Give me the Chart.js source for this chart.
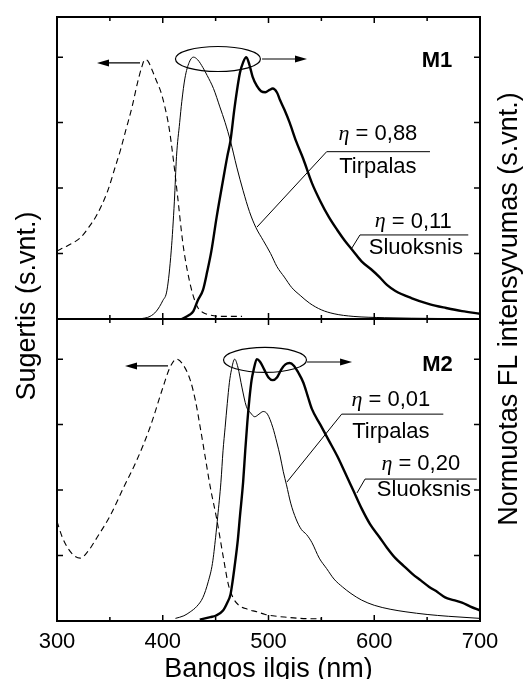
<!DOCTYPE html>
<html>
<head>
<meta charset="utf-8">
<script src="https://cdn.jsdelivr.net/npm/chart.js@4.4.0/dist/chart.umd.min.js"></script>
<style>
  body { margin: 0; background: #fff; }
</style>
</head>
<body>
<canvas id="spektrai" width="524" height="679"></canvas>
<script>
// --- duomenys (nm, santykiniai vienetai) ---
const m1AbsNm = [300, 310, 322, 330, 338, 348, 355, 360, 365, 371, 376, 380, 383, 386, 390, 394, 398, 402, 406, 410, 414, 419, 423, 428, 433, 438, 445, 455, 475];
const m1AbsVal = [0.26, 0.28, 0.31, 0.35, 0.40, 0.49, 0.58, 0.645, 0.72, 0.81, 0.90, 0.96, 0.99, 0.985, 0.95, 0.91, 0.87, 0.81, 0.73, 0.61, 0.47, 0.29, 0.19, 0.10, 0.045, 0.025, 0.015, 0.01, 0.01];

const m1SolNm = [378, 388, 394, 400, 404, 408, 411, 413, 416, 418, 421, 425, 429, 433, 438, 442, 448, 454, 459, 464, 470, 476, 482, 488, 495, 502, 508, 515, 522, 530, 539, 550, 562, 580, 610, 660, 700];
const m1SolVal = [0, 0.01, 0.03, 0.07, 0.11, 0.26, 0.45, 0.62, 0.75, 0.83, 0.92, 0.98, 1.0, 0.99, 0.96, 0.93, 0.88, 0.81, 0.75, 0.68, 0.58, 0.49, 0.41, 0.35, 0.30, 0.25, 0.20, 0.16, 0.12, 0.09, 0.06, 0.035, 0.02, 0.01, 0.005, 0.002, 0.001];

const m1FilmNm = [418, 425, 429, 433, 438, 442, 446, 451, 457, 461, 464, 468, 473, 476, 479, 482, 485, 489, 493, 497, 501, 504, 508, 511, 515, 520, 526, 533, 541, 549, 557, 565, 572, 580, 588, 597, 605, 612, 620, 635, 652, 668, 683, 700];
const m1FilmVal = [0, 0.015, 0.03, 0.07, 0.11, 0.18, 0.26, 0.39, 0.53, 0.62, 0.68, 0.81, 0.94, 0.98, 1.0, 0.97, 0.925, 0.89, 0.87, 0.866, 0.875, 0.88, 0.865, 0.835, 0.80, 0.75, 0.68, 0.61, 0.52, 0.45, 0.39, 0.34, 0.30, 0.26, 0.22, 0.19, 0.16, 0.13, 0.107, 0.08, 0.057, 0.042, 0.03, 0.02];

const m2AbsNm = [300, 305, 310, 316, 322, 330, 338, 350, 363, 375, 388, 400, 407, 413, 419, 426, 431, 435, 440, 445, 451, 457, 462, 467, 472, 480, 489, 497, 504, 515, 530, 550];
const m2AbsVal = [0.38, 0.32, 0.28, 0.25, 0.24, 0.27, 0.32, 0.40, 0.51, 0.61, 0.74, 0.89, 0.97, 1.0, 0.98, 0.92, 0.84, 0.75, 0.63, 0.51, 0.39, 0.25, 0.14, 0.085, 0.06, 0.045, 0.035, 0.025, 0.02, 0.015, 0.01, 0.008];

const m2SolNm = [412, 420, 426, 432, 438, 443, 447, 450, 452, 455, 457, 459, 461, 463, 465, 468, 471, 475, 479, 483, 487, 491, 495, 499, 504, 508, 511, 514, 517, 521, 526, 531, 536, 541, 548, 555, 562, 570, 578, 588, 600, 615, 630, 650, 670, 700];
const m2SolVal = [0.01, 0.02, 0.035, 0.055, 0.09, 0.15, 0.22, 0.32, 0.40, 0.53, 0.65, 0.74, 0.83, 0.91, 0.96, 1.0, 0.97, 0.89, 0.82, 0.795, 0.78, 0.79, 0.80, 0.79, 0.74, 0.68, 0.63, 0.57, 0.52, 0.45, 0.39, 0.35, 0.33, 0.30, 0.24, 0.20, 0.16, 0.13, 0.105, 0.08, 0.06, 0.045, 0.035, 0.025, 0.018, 0.01];

const m2FilmNm = [435, 445, 450, 457, 461, 464, 466, 468, 471, 473, 476, 478, 480, 482, 484, 486, 489, 492, 496, 500, 504, 508, 512, 516, 520, 524, 528, 533, 537, 541, 549, 557, 565, 572, 580, 588, 596, 605, 612, 620, 628, 636, 644, 652, 660, 667, 675, 683, 691, 700];
const m2FilmVal = [0.005, 0.015, 0.02, 0.04, 0.07, 0.10, 0.15, 0.21, 0.31, 0.40, 0.53, 0.65, 0.76, 0.85, 0.92, 0.96, 1.0, 0.99, 0.96, 0.93, 0.92, 0.93, 0.96, 0.98, 0.985, 0.975, 0.95, 0.91, 0.86, 0.81, 0.75, 0.69, 0.63, 0.57, 0.50, 0.43, 0.37, 0.32, 0.28, 0.24, 0.21, 0.18, 0.155, 0.13, 0.11, 0.09, 0.08, 0.07, 0.055, 0.04];

const xMin = 300, xMax = 700, xStep = 100, xMinorStep = 50;
const yMax = 1.1533, yStep = 0.25;

// --- anotacijos (duomenu koordinatemis) ---
const ovals = [
  { axis: 'yTop', nm: 452.2, v: 0.993, rx: 42.5, ry: 12.5 },
  { axis: 'yBot', nm: 496.7, v: 0.997, rx: 41.5, ry: 12.5 },
];
const arrows = [
  { axis: 'yTop', from: [493.9, 0.993], to: [536.4, 0.993] },
  { axis: 'yTop', from: [378.5, 0.978], to: [337.8, 0.978] },
  { axis: 'yBot', from: [536.4, 0.989], to: [579.0, 0.989] },
  { axis: 'yBot', from: [405.0, 0.974], to: [364.3, 0.974] },
];
const panelTags = [
  { axis: 'yTop', text: 'M1', at: [659.3, 0.985] },
  { axis: 'yBot', text: 'M2', at: [659.8, 0.978] },
];
const callouts = [
  { axis: 'yTop', eta: '0,88', medium: 'Tirpalas', etaAt: [603.5, 0.706], mediumAt: [603.4, 0.579],
    line: [[489.1, 0.351], [555.0, 0.639], [652.7, 0.639]] },
  { axis: 'yTop', eta: '0,11', medium: 'Sluoksnis', etaAt: [636.9, 0.372], mediumAt: [639.3, 0.270],
    line: [[578.7, 0.270], [586.5, 0.321], [688.9, 0.321]] },
  { axis: 'yBot', eta: '0,01', medium: 'Tirpalas', etaAt: [615.7, 0.844], mediumAt: [615.7, 0.723],
    line: [[517.5, 0.531], [569.2, 0.790], [665.3, 0.790]] },
  { axis: 'yBot', eta: '0,20', medium: 'Sluoksnis', etaAt: [644.0, 0.600], mediumAt: [647.0, 0.500],
    line: [[583.7, 0.489], [591.3, 0.542], [696.9, 0.542]] },
];

const SANS = "'Liberation Sans', Arial, sans-serif";
const SERIF = "'Liberation Serif', 'Times New Roman', serif";

function pts(nm, val) {
  return nm.map((x, i) => ({ x: x, y: val[i] }));
}

function kreive(nm, val, axis, kind) {
  return {
    data: pts(nm, val),
    yAxisID: axis,
    borderColor: '#000',
    borderWidth: kind === 'film' ? 2.4 : (kind === 'abs' ? 1.1 : 1),
    borderDash: kind === 'abs' ? [6, 4] : [],
    cubicInterpolationMode: 'monotone',
    pointRadius: 0,
    fill: false,
  };
}

// remeliai, vidines padalos ir anotacijos
const remai = {
  id: 'remai',
  afterDraw(chart) {
    const { ctx, chartArea: { left, right }, scales } = chart;
    const xs = scales.x;
    const P = (axis, p) => ({ x: xs.getPixelForValue(p[0]), y: scales[axis].getPixelForValue(p[1]) });
    ctx.save();
    ctx.strokeStyle = '#000';
    ctx.fillStyle = '#000';

    ['yTop', 'yBot'].forEach((id) => {
      const ys = scales[id];
      ctx.lineWidth = 1.5;
      ctx.beginPath();
      ys.ticks.forEach((t) => {
        if (t.value <= 0 || t.value > 1.01) return;
        const py = ys.getPixelForValue(t.value);
        ctx.moveTo(left, py); ctx.lineTo(left + 6, py);
        ctx.moveTo(right, py); ctx.lineTo(right - 6, py);
      });
      for (let v = xMin + xMinorStep; v < xMax; v += xMinorStep) {
        const px = xs.getPixelForValue(v);
        const len = v % xStep === 0 ? 6 : 4;
        ctx.moveTo(px, ys.top); ctx.lineTo(px, ys.top + len);
        ctx.moveTo(px, ys.bottom); ctx.lineTo(px, ys.bottom - len);
      }
      ctx.stroke();
      ctx.lineWidth = 2;
      ctx.strokeRect(left, ys.top, right - left, ys.bottom - ys.top);
    });

    ctx.lineWidth = 1.2;
    ovals.forEach((o) => {
      const c = P(o.axis, [o.nm, o.v]);
      ctx.beginPath();
      ctx.ellipse(c.x, c.y, o.rx, o.ry, 0, 0, Math.PI * 2);
      ctx.stroke();
    });

    arrows.forEach((a) => {
      const p1 = P(a.axis, a.from), p2 = P(a.axis, a.to);
      const dir = Math.sign(p2.x - p1.x);
      ctx.beginPath();
      ctx.moveTo(p1.x, p1.y); ctx.lineTo(p2.x - dir * 8, p2.y);
      ctx.stroke();
      ctx.beginPath();
      ctx.moveTo(p2.x, p2.y);
      ctx.lineTo(p2.x - dir * 12, p2.y - 3.5);
      ctx.lineTo(p2.x - dir * 12, p2.y + 3.5);
      ctx.closePath();
      ctx.fill();
    });

    ctx.textBaseline = 'middle';
    ctx.textAlign = 'center';
    ctx.font = 'bold 22px ' + SANS;
    panelTags.forEach((t) => {
      const c = P(t.axis, t.at);
      ctx.fillText(t.text, c.x, c.y);
    });

    callouts.forEach((c) => {
      ctx.lineWidth = 1;
      ctx.beginPath();
      c.line.forEach((p, i) => {
        const q = P(c.axis, p);
        if (i === 0) ctx.moveTo(q.x, q.y); else ctx.lineTo(q.x, q.y);
      });
      ctx.stroke();

      const e = P(c.axis, c.etaAt);
      const etaFont = 'italic 22px ' + SERIF;
      const restFont = '22px ' + SANS;
      const rest = ' = ' + c.eta;
      ctx.font = etaFont;
      const w1 = ctx.measureText('\u03B7').width;
      ctx.font = restFont;
      const w2 = ctx.measureText(rest).width;
      const x0 = e.x - (w1 + w2) / 2;
      ctx.textAlign = 'left';
      ctx.font = etaFont;
      ctx.fillText('\u03B7', x0, e.y);
      ctx.font = restFont;
      ctx.fillText(rest, x0 + w1, e.y);

      const m = P(c.axis, c.mediumAt);
      ctx.textAlign = 'center';
      ctx.fillText(c.medium, m.x, m.y);
    });

    // asiu pavadinimai
    ctx.font = '27px ' + SANS;
    ctx.textBaseline = 'alphabetic';
    ctx.save();
    ctx.translate(35, 306);
    ctx.rotate(-Math.PI / 2);
    ctx.fillText('Sugertis (s.vnt.)', 0, 0);
    ctx.restore();
    ctx.save();
    ctx.translate(517, 309);
    ctx.rotate(-Math.PI / 2);
    ctx.fillText('Normuotas FL intensyvumas (s.vnt.)', 0, 0);
    ctx.restore();

    ctx.restore();
  },
};

const yAxis = (weight) => ({
  type: 'linear',
  position: 'left',
  stack: 'panele',
  stackWeight: 1,
  weight: weight,
  min: 0,
  max: yMax,
  ticks: { stepSize: yStep, display: false },
  grid: { display: false },
  border: { display: false },
  afterFit: (s) => { s.width = 57; },
});

new Chart(document.getElementById('spektrai'), {
  type: 'line',
  data: {
    datasets: [
      kreive(m1AbsNm, m1AbsVal, 'yTop', 'abs'),
      kreive(m1SolNm, m1SolVal, 'yTop', 'sol'),
      kreive(m1FilmNm, m1FilmVal, 'yTop', 'film'),
      kreive(m2AbsNm, m2AbsVal, 'yBot', 'abs'),
      kreive(m2SolNm, m2SolVal, 'yBot', 'sol'),
      kreive(m2FilmNm, m2FilmVal, 'yBot', 'film'),
    ],
  },
  options: {
    responsive: false,
    animation: false,
    layout: { padding: { top: 17, right: 44, left: 0, bottom: 0 } },
    plugins: { legend: { display: false }, tooltip: { enabled: false } },
    scales: {
      x: {
        type: 'linear',
        position: 'bottom',
        min: xMin,
        max: xMax,
        ticks: { stepSize: xStep, color: '#000', font: { family: SANS, size: 22 }, padding: 0, maxRotation: 0, autoSkip: false },
        grid: { display: false },
        border: { display: false },
        title: { display: true, text: 'Bangos ilgis (nm)', color: '#000', font: { family: SANS, size: 27, lineHeight: 0.7 }, padding: 0 },
        afterFit: (s) => { s.height = 58; },
      },
      yTop: yAxis(1),
      yBot: yAxis(0),
    },
  },
  plugins: [remai],
});
</script>
</body>
</html>
